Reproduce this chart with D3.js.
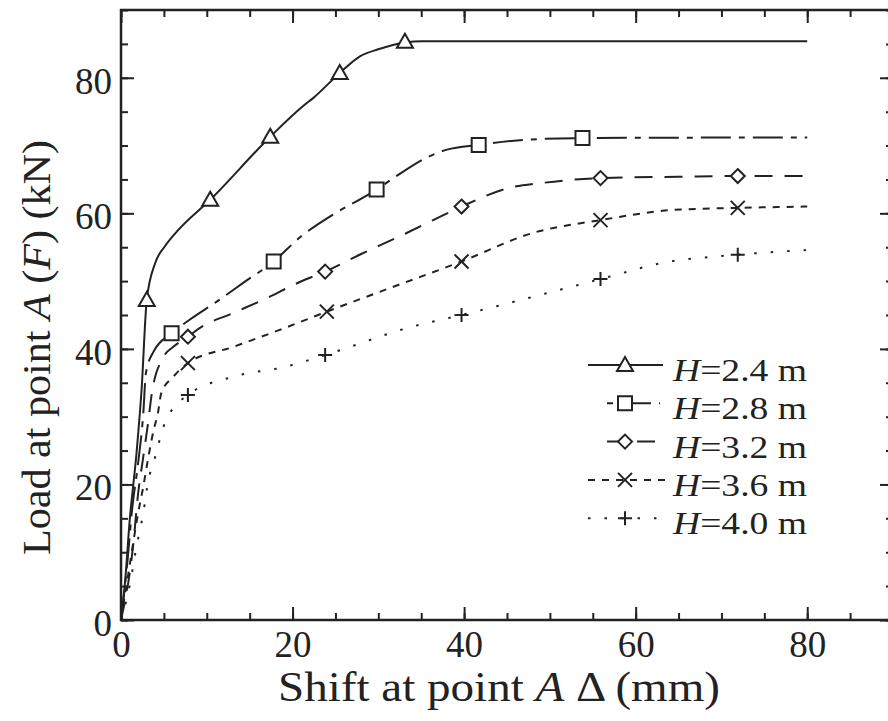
<!DOCTYPE html>
<html>
<head>
<meta charset="utf-8">
<script src="https://cdn.jsdelivr.net/npm/d3@7"></script>
<style>
  body { margin: 0; background: #fff; }
  svg text { font-family: "Liberation Serif", "Times New Roman", Times, "DejaVu Serif", serif; }
  .axis path { display: none; }
  .axis line { stroke: #222; stroke-width: 2; }
  .axis text { font-size: 37px; fill: #222; }
</style>
</head>
<body>
<div id="chart"></div>
<script>
// data: [shift (mm), load (kN)]
const seriesNames = ["2.4", "2.8", "3.2", "3.6", "4.0"];

const h24 = [[0,0],[0.5,6],[1.0,14.5],[1.8,24.5],[2.4,34],[3.0,47.2],[4.0,52.7],[5.1,55.1],[6.5,57.3],
  [10.4,62],[17.4,71.3],[21.2,75.8],[22.4,77],[25.5,80.7],[27.9,83.2],[30,84.2],[33.1,85.2],[35.1,85.4],[80,85.4]];
const h28 = [[0,0],[0.8,9.3],[1.25,15.8],[2.0,23.2],[2.6,30.5],[2.9,36.4],[3.8,39.6],[5.9,42.3],[8.0,44.3],
  [11.2,47],[14.2,49.7],[17.8,52.9],[20.9,56.5],[24.7,59.8],[29.8,63.5],[32,65.4],[35.6,68.2],[38,69.4],
  [41.7,70.1],[46.5,70.8],[53.8,71.1],[80,71.2]];
const h32 = [[0,0],[1.4,10.8],[2.0,18.7],[2.6,24.1],[3.2,29.5],[3.6,33.5],[4.9,38.7],[6.1,40.3],[7.8,41.8],
  [9.2,43.1],[13.1,45.3],[17,47.5],[20.9,49.9],[23.8,51.4],[28,54],[33.3,57.1],[36.4,59],[39.7,61],
  [45.4,63.8],[49.2,64.5],[55.9,65.2],[65,65.4],[71.9,65.5],[80,65.5]];
const h36 = [[0,0],[1.0,8],[2.0,15.8],[2.6,19.7],[3.2,24.1],[3.8,28],[4.3,30.5],[4.7,33.5],[6.1,35.9],
  [7.8,37.9],[13.1,40.3],[18.5,42.8],[24,45.5],[31.4,49],[39.7,52.9],[48,57.1],[55.9,59],[64.4,60.5],
  [71.9,60.8],[80,61]];
const h40 = [[0,0],[1.0,5],[1.8,10.8],[2.6,15.8],[3.2,20.7],[3.8,23.2],[4.3,25.6],[4.9,28.3],[5.7,30.5],
  [7.8,33.2],[13.1,35.9],[19.3,37.4],[23.8,39.1],[34,43.3],[39.7,45],[49.6,48.2],[55.9,50.3],[63.2,52.7],
  [71.9,53.9],[80,54.6]];

const marks24 = [[3.0,47.2],[10.4,62],[17.4,71.3],[25.5,80.7],[33.1,85.3]];
const marks28 = [[5.9,42.3],[17.8,52.9],[29.8,63.5],[41.7,70.1],[53.8,71.1]];
const marks32 = [[7.8,41.8],[23.8,51.4],[39.7,61],[55.9,65.2],[71.9,65.5]];
const marks36 = [[7.8,37.9],[24,45.5],[39.7,52.9],[55.9,59],[71.9,60.8]];
const marks40 = [[7.8,33.2],[23.8,39.1],[39.7,45],[55.9,50.3],[71.9,53.9]];

const majorTicks = [0, 20, 40, 60, 80];
const minorTicks = d3.range(0, 91, 5);

const W = 888, H = 721;
const margin = {top: 10, left: 121, bottom: 101, right: -5};
const width = W - margin.left - margin.right;
const height = H - margin.top - margin.bottom;
const serif = "'Liberation Serif', 'Times New Roman', Times, 'DejaVu Serif', serif";

const svg = d3.select("#chart").append("svg")
  .attr("width", W).attr("height", H);
const g = svg.append("g")
  .attr("transform", "translate(" + margin.left + "," + margin.top + ")");

const x = d3.scaleLinear().domain([0, 90]).range([0, width]);
const y = d3.scaleLinear().domain([0, 90]).range([height, 0]);

// minor ticks on all four sides
g.append("g").attr("class", "axis").attr("transform", "translate(0," + height + ")")
  .call(d3.axisBottom(x).tickValues(minorTicks).tickSize(-7).tickFormat(""));
g.append("g").attr("class", "axis")
  .call(d3.axisTop(x).tickValues(minorTicks).tickSize(-7).tickFormat(""));
g.append("g").attr("class", "axis")
  .call(d3.axisLeft(y).tickValues(minorTicks).tickSize(-7).tickFormat(""));
g.append("g").attr("class", "axis").attr("transform", "translate(" + width + ",0)")
  .call(d3.axisRight(y).tickValues(minorTicks).tickSize(-7).tickFormat(""));

// major ticks + labels
g.append("g").attr("class", "axis").attr("transform", "translate(0," + height + ")")
  .call(d3.axisBottom(x).tickValues(majorTicks).tickSize(-13).tickPadding(11))
  .attr("font-family", serif);
g.append("g").attr("class", "axis")
  .call(d3.axisTop(x).tickValues(majorTicks).tickSize(-13).tickFormat(""));
g.append("g").attr("class", "axis")
  .call(d3.axisLeft(y).tickValues(majorTicks).tickSize(-13).tickPadding(9))
  .attr("font-family", serif)
  .selectAll("text").attr("dy", "0.42em");
g.append("g").attr("class", "axis").attr("transform", "translate(" + width + ",0)")
  .call(d3.axisRight(y).tickValues(majorTicks).tickSize(-13).tickFormat(""));

g.append("rect")
  .attr("width", width).attr("height", height)
  .attr("fill", "none").attr("stroke", "#222").attr("stroke-width", 2.5);

const styles = [
  {data: h24, marks: marks24, dash: null, sym: "tri"},
  {data: h28, marks: marks28, dash: "30,8,6,8", sym: "sq"},
  {data: h32, marks: marks32, dash: "18,12", sym: "dia"},
  {data: h36, marks: marks36, dash: "7,7", sym: "x"},
  {data: h40, marks: marks40, dash: "2.5,14", sym: "plus"}
];

const line = d3.line()
  .x(d => x(d[0]))
  .y(d => y(d[1]))
  .curve(d3.curveMonotoneX);

const symPath = {
  tri: "M0,-8L8,6L-8,6Z",
  sq: "M-7,-7H7V7H-7Z",
  dia: "M0,-7L7,0L0,7L-7,0Z",
  x: "M-7,-7L7,7M7,-7L-7,7",
  plus: "M-7,0H7M0,-7V7"
};

function drawSym(sel, sym) {
  sel.append("path")
    .attr("d", symPath[sym])
    .attr("fill", (sym === "x" || sym === "plus") ? "none" : "#fff")
    .attr("stroke", "#222")
    .attr("stroke-width", 2);
}

styles.forEach(s => {
  g.append("path")
    .datum(s.data)
    .attr("d", line)
    .attr("fill", "none")
    .attr("stroke", "#222")
    .attr("stroke-width", 2)
    .attr("stroke-dasharray", s.dash);

  g.selectAll(null)
    .data(s.marks)
    .enter()
    .append("g")
    .attr("transform", d => "translate(" + x(d[0]) + "," + y(d[1]) + ")")
    .each(function() { drawSym(d3.select(this), s.sym); });
});

// legend
const legendStart = [0, 19, 19, 0, 0];
const legendEnd = [75, 72, 72, 79, 79];
const legendOffset = [0, 38, 0, 0, 0];
const legend = svg.append("g").attr("transform", "translate(588,365)");
styles.forEach((s, i) => {
  const row = legend.append("g").attr("transform", "translate(0," + (i * 38.3) + ")");
  row.append("line")
    .attr("x1", legendStart[i]).attr("x2", legendEnd[i])
    .attr("stroke", "#222").attr("stroke-width", 2)
    .attr("stroke-dasharray", s.dash)
    .attr("stroke-dashoffset", legendOffset[i]);
  const m = row.append("g").attr("transform", "translate(37,0)");
  drawSym(m, s.sym);
  const t = row.append("text")
    .attr("x", 85).attr("y", 16)
    .attr("font-family", serif)
    .attr("font-size", 32).attr("fill", "#222")
    .attr("textLength", 134).attr("lengthAdjust", "spacingAndGlyphs");
  t.append("tspan").attr("font-style", "italic").text("H");
  t.append("tspan").text("=" + seriesNames[i] + " m");
});

// axis titles
const xt = svg.append("text")
  .attr("x", 278).attr("y", 701)
  .attr("font-family", serif)
  .attr("font-size", 42).attr("fill", "#222")
  .attr("textLength", 442).attr("lengthAdjust", "spacingAndGlyphs");
xt.append("tspan").text("Shift at point ");
xt.append("tspan").attr("font-style", "italic").text("A");
xt.append("tspan").text(" \u0394 (mm)");

const yt = svg.append("text")
  .attr("transform", "translate(50,555) rotate(-90)")
  .attr("font-family", serif)
  .attr("font-size", 41).attr("fill", "#222")
  .attr("textLength", 415).attr("lengthAdjust", "spacingAndGlyphs");
yt.append("tspan").text("Load at point ");
yt.append("tspan").attr("font-style", "italic").text("A");
yt.append("tspan").text(" (");
yt.append("tspan").attr("font-style", "italic").text("F");
yt.append("tspan").text(") (kN)");
</script>
</body>
</html>
